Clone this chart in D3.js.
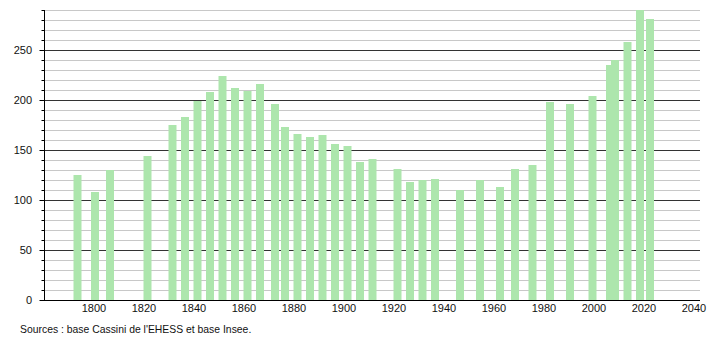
<!DOCTYPE html>
<html>
<head>
<meta charset="utf-8">
<script src="https://cdn.jsdelivr.net/npm/d3@7"></script>
<style>
  body { margin: 0; background: #fff; }
  svg text { font-family: "Liberation Sans", Arial, sans-serif; font-size: 11px; fill: #111; }
</style>
</head>
<body>
<svg width="710" height="340"></svg>
<script>
const years = [1793, 1800, 1806, 1821, 1831, 1836, 1841, 1846, 1851, 1856, 1861, 1866, 1872, 1876,
  1881, 1886, 1891, 1896, 1901, 1906, 1911, 1921, 1926, 1931, 1936, 1946, 1954, 1962, 1968,
  1975, 1982, 1990, 1999, 2006, 2008, 2013, 2018, 2022];
const population = [125, 108, 130, 144, 175, 183, 199, 208, 224, 212, 209, 216, 196, 173,
  166, 163, 165, 156, 154, 138, 141, 131, 118, 120, 121, 110, 120, 113, 131,
  135, 198, 196, 204, 235, 240, 258, 290, 281];
const yTicks = [0, 50, 100, 150, 200, 250];
const xTicks = [1800, 1820, 1840, 1860, 1880, 1900, 1920, 1940, 1960, 1980, 2000, 2020, 2040];
const source = "Sources : base Cassini de l'EHESS et base Insee.";

const svg = d3.select("svg");
const g = svg.append("g");

const x = d3.scaleLinear().domain([1780, 2042.4]).range([44, 700]);
const y = d3.scaleLinear().domain([0, 290]).range([300, 10]);

// grid lines, every 10, darker every 50
g.selectAll("line.grid")
  .data(d3.range(10, 291, 10))
  .enter()
  .append("line")
    .attr("x1", x(1780))
    .attr("x2", x(2042.4))
    .attr("y1", (d) => Math.round(y(d)) + 0.5)
    .attr("y2", (d) => Math.round(y(d)) + 0.5)
    .attr("stroke", (d) => d % 50 ? "#c8c8c8" : "#333")
    .attr("stroke-width", 1);

// bars
const barW = 8;
g.selectAll("rect")
  .data(years)
  .enter()
  .append("rect")
    .attr("x", (d) => x(d + 0.4) - barW / 2)
    .attr("y", (d, i) => y(population[i]))
    .attr("width", barW)
    .attr("height", (d, i) => y(0) - y(population[i]))
    .attr("fill", "#ade6ad");

// y axis
const yAxis = d3.axisLeft(y)
  .tickValues(d3.range(0, 291, 10))
  .tickSize(0)
  .tickFormat("");
g.append("g")
  .attr("transform", "translate(44.5,0)")
  .call(yAxis)
  .call((s) => s.select(".domain").attr("stroke", "#000").attr("d", `M0,${y(290)}V${y(0)}`))
  .call((s) => s.selectAll(".tick line")
    .attr("x2", (d) => d % 50 ? -3 : -5)
    .attr("stroke", "#000"));

g.selectAll("text.ylab")
  .data(yTicks)
  .enter()
  .append("text")
    .attr("class", "ylab")
    .attr("x", 32)
    .attr("y", (d) => y(d) + 4)
    .attr("text-anchor", "end")
    .text((d) => d);

// x axis
g.append("line")
  .attr("x1", 44)
  .attr("x2", 700)
  .attr("y1", 300.5)
  .attr("y2", 300.5)
  .attr("stroke", "#000");

g.selectAll("text.xlab")
  .data(xTicks)
  .enter()
  .append("text")
    .attr("class", "xlab")
    .attr("x", (d) => x(d))
    .attr("y", 312)
    .attr("text-anchor", "middle")
    .text((d) => d);

svg.append("text")
  .attr("x", 20)
  .attr("y", 333)
  .style("font-size", "10.4px")
  .text(source);
</script>
</body>
</html>
